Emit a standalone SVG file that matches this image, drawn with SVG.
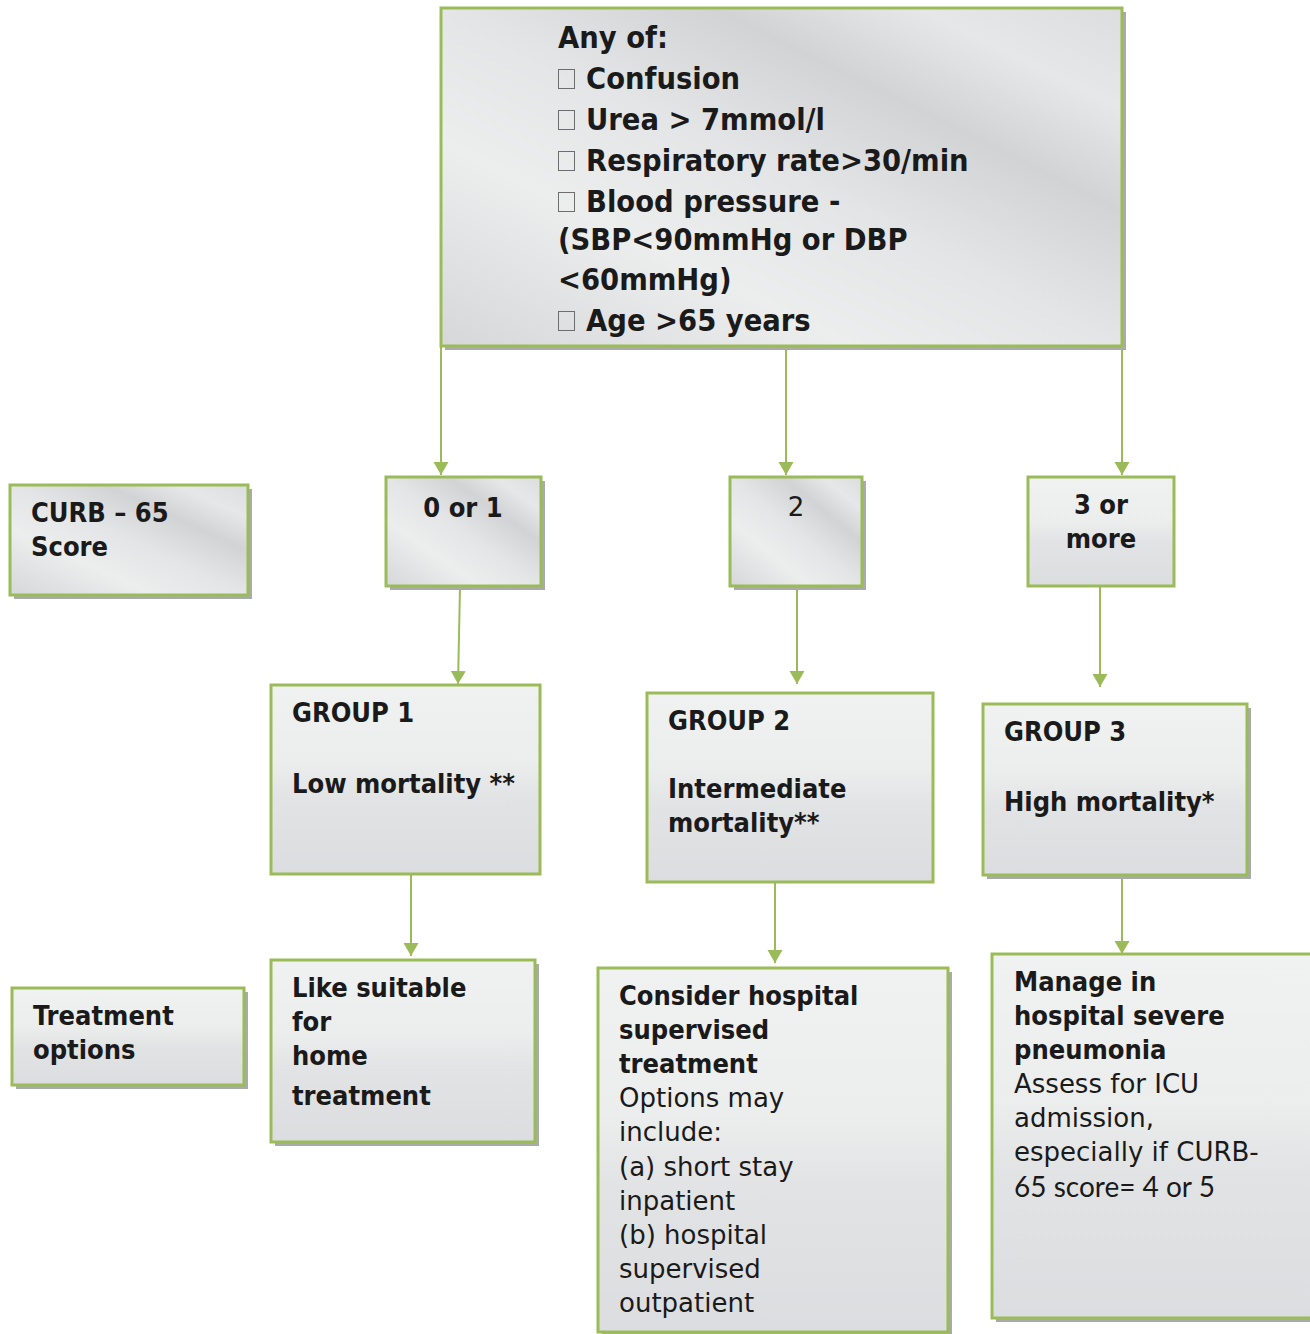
<svg xmlns="http://www.w3.org/2000/svg" width="1310" height="1334" viewBox="0 0 1310 1334">
  <defs>
    <style>
      .box { stroke: #9bbb59; stroke-width: 3; }
      .sheen { fill: url(#sheen); }
      .vert { fill: url(#vert); }
      .shadow { fill: #a9aaac; }
      .t { font-family: "DejaVu Sans Condensed", "DejaVu Sans", sans-serif; fill: #1a1a1a; }
      .b { font-weight: bold; }
      .r { font-family: "DejaVu Sans", sans-serif; font-size: 26px; fill: #1a1a1a; }
      .big { font-size: 30.5px; }
      .mid { font-size: 27px; }
      .edge { stroke: #9bbb59; stroke-width: 2; fill: none; marker-end: url(#arrow); }
      .tofu { fill: none; stroke: #6d6d6d; stroke-width: 1; }
    </style>
    <linearGradient id="sheen" x1="0" y1="1" x2="1" y2="0">
      <stop offset="0" stop-color="#d6d7d9"/>
      <stop offset="0.3" stop-color="#eceded"/>
      <stop offset="0.5" stop-color="#e4e5e6"/>
      <stop offset="0.7" stop-color="#d2d3d5"/>
      <stop offset="0.85" stop-color="#e6e7e8"/>
      <stop offset="1" stop-color="#dcdddf"/>
    </linearGradient>
    <linearGradient id="vert" x1="0" y1="0" x2="0" y2="1">
      <stop offset="0" stop-color="#f0f1f1"/>
      <stop offset="0.4" stop-color="#eceded"/>
      <stop offset="0.6" stop-color="#e2e3e4"/>
      <stop offset="1" stop-color="#dcdde0"/>
    </linearGradient>
    <marker id="arrow" markerUnits="userSpaceOnUse" markerWidth="16" markerHeight="16" refX="13" refY="8" orient="auto">
      <path d="M0,0.5 L13,8 L0,15.5 Z" fill="#9bbb59"/>
    </marker>
  </defs>

  <!-- connectors -->
  <g id="connectors">
    <line class="edge" x1="441" y1="347" x2="441" y2="475"/>
    <line class="edge" x1="786" y1="347" x2="786" y2="475"/>
    <line class="edge" x1="1122" y1="347" x2="1122" y2="475"/>
    <line class="edge" x1="460" y1="587" x2="458" y2="684"/>
    <line class="edge" x1="797" y1="587" x2="797" y2="684"/>
    <line class="edge" x1="1100" y1="587" x2="1100" y2="687"/>
    <line class="edge" x1="411" y1="875" x2="411" y2="956"/>
    <line class="edge" x1="775" y1="883" x2="775" y2="963"/>
    <line class="edge" x1="1122" y1="876" x2="1122" y2="954"/>
  </g>

  <!-- criteria -->
  <g id="criteria">
    <rect class="shadow" x="445" y="12" width="681" height="338"/>
    <rect class="box sheen" x="441" y="8" width="681" height="338"/>
    <text class="t b big" x="558" y="48">Any of:</text>
    <rect class="tofu" x="558.5" y="69.5" width="16" height="19"/>
    <text class="t b big" x="586" y="89">Confusion</text>
    <rect class="tofu" x="558.5" y="110.5" width="16" height="19"/>
    <text class="t b big" x="586" y="130">Urea &gt; 7mmol/l</text>
    <rect class="tofu" x="558.5" y="151.5" width="16" height="19"/>
    <text class="t b big" x="586" y="171">Respiratory rate&gt;30/min</text>
    <rect class="tofu" x="558.5" y="192.5" width="16" height="19"/>
    <text class="t b big" x="586" y="212">Blood pressure -</text>
    <text class="t b big" x="558" y="250">(SBP&lt;90mmHg or DBP</text>
    <text class="t b big" x="558" y="290">&lt;60mmHg)</text>
    <rect class="tofu" x="558.5" y="311.5" width="16" height="19"/>
    <text class="t b big" x="586" y="331">Age &gt;65 years</text>
  </g>

  <!-- row label: score -->
  <g id="score-label">
    <rect class="shadow" x="14" y="489" width="238" height="110"/>
    <rect class="box sheen" x="10" y="485" width="238" height="110"/>
    <text class="t b mid" x="31" y="522">CURB – 65</text>
    <text class="t b mid" x="31" y="556">Score</text>
  </g>

  <!-- score bands -->
  <g id="score-0-1">
    <rect class="shadow" x="390" y="481" width="155" height="109"/>
    <rect class="box sheen" x="386" y="477" width="155" height="109"/>
    <text class="t b mid" x="463" y="517" text-anchor="middle">0 or 1</text>
  </g>
  <g id="score-2">
    <rect class="shadow" x="734" y="481" width="132" height="109"/>
    <rect class="box sheen" x="730" y="477" width="132" height="109"/>
    <text class="r" x="796" y="516" text-anchor="middle" font-size="25">2</text>
  </g>
  <g id="score-3-plus">
    <rect class="box vert" x="1028" y="477" width="146" height="109"/>
    <text class="t b mid" x="1101" y="514" text-anchor="middle">3 or</text>
    <text class="t b mid" x="1101" y="548" text-anchor="middle">more</text>
  </g>

  <!-- mortality groups -->
  <g id="group-1">
    <rect class="box vert" x="271" y="685" width="269" height="189"/>
    <text class="t b mid" x="292" y="722">GROUP 1</text>
    <text class="t b mid" x="292" y="793">Low mortality **</text>
  </g>
  <g id="group-2">
    <rect class="box vert" x="647" y="693" width="286" height="189"/>
    <text class="t b mid" x="668" y="730">GROUP 2</text>
    <text class="t b mid" x="668" y="798">Intermediate</text>
    <text class="t b mid" x="668" y="832">mortality**</text>
  </g>
  <g id="group-3">
    <rect class="shadow" x="987" y="708" width="264" height="171"/>
    <rect class="box vert" x="983" y="704" width="264" height="171"/>
    <text class="t b mid" x="1004" y="741">GROUP 3</text>
    <text class="t b mid" x="1004" y="811">High mortality*</text>
  </g>

  <!-- row label: treatment -->
  <g id="treatment-label">
    <rect class="shadow" x="16" y="992" width="232" height="97"/>
    <rect class="box vert" x="12" y="988" width="232" height="97"/>
    <text class="t b mid" x="33" y="1025">Treatment</text>
    <text class="t b mid" x="33" y="1059">options</text>
  </g>

  <!-- treatment options -->
  <g id="treatment-1">
    <rect class="shadow" x="275" y="964" width="264" height="182"/>
    <rect class="box vert" x="271" y="960" width="264" height="182"/>
    <text class="t b mid" x="292" y="997">Like suitable</text>
    <text class="t b mid" x="292" y="1031">for</text>
    <text class="t b mid" x="292" y="1065">home</text>
    <text class="t b mid" x="292" y="1105">treatment</text>
  </g>
  <g id="treatment-2">
    <rect class="shadow" x="602" y="972" width="350" height="364"/>
    <rect class="box vert" x="598" y="968" width="350" height="364"/>
    <text class="t b mid" x="619" y="1005">Consider hospital</text>
    <text class="t b mid" x="619" y="1039">supervised</text>
    <text class="t b mid" x="619" y="1073">treatment</text>
    <text class="r" x="619" y="1107">Options may</text>
    <text class="r" x="619" y="1141">include:</text>
    <text class="r" x="619" y="1176">(a) short stay</text>
    <text class="r" x="619" y="1210">inpatient</text>
    <text class="r" x="619" y="1244">(b) hospital</text>
    <text class="r" x="619" y="1278">supervised</text>
    <text class="r" x="619" y="1312">outpatient</text>
  </g>
  <g id="treatment-3">
    <rect class="shadow" x="996" y="958" width="318" height="364"/>
    <rect class="box vert" x="992" y="954" width="320" height="364"/>
    <text class="t b mid" x="1014" y="991">Manage in</text>
    <text class="t b mid" x="1014" y="1025">hospital severe</text>
    <text class="t b mid" x="1014" y="1059">pneumonia</text>
    <text class="r" x="1014" y="1093">Assess for ICU</text>
    <text class="r" x="1014" y="1127">admission,</text>
    <text class="r" x="1014" y="1161">especially if CURB-</text>
    <text x="1014" y="1197" font-family="Lato, 'Open Sans', sans-serif" font-size="28" fill="#1a1a1a">65 score= 4 or 5</text>
  </g>
</svg>
